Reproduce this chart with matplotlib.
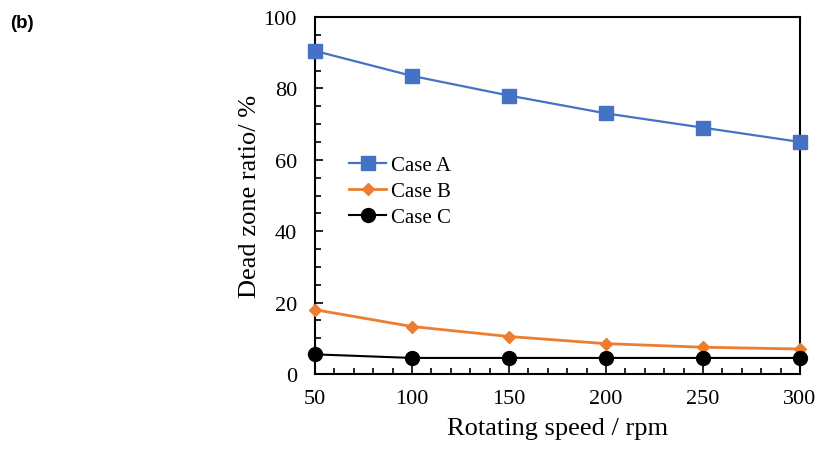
import matplotlib
matplotlib.use("Agg")
import matplotlib.pyplot as plt
from matplotlib.ticker import MultipleLocator

speed = [50, 100, 150, 200, 250, 300]
case_a = [90.5, 83.5, 78.0, 73.0, 69.0, 65.0]
case_b = [18.0, 13.3, 10.5, 8.5, 7.5, 7.0]
case_c = [5.5, 4.5, 4.5, 4.5, 4.5, 4.5]

plt.rcParams["font.family"] = ["Liberation Serif", "DejaVu Serif"]

fig = plt.figure(figsize=(8.21, 4.52), dpi=100)
ax = fig.add_axes([315 / 821, 1 - 375 / 452, 485 / 821, 357 / 452])

ax.plot(speed, case_a, color="#4472C4", marker="s", ms=10, lw=1.6, label="Case A", clip_on=False, zorder=3)
ax.plot(speed, case_b, color="#ED7D31", marker="D", ms=6.5, lw=2, label="Case B", clip_on=False, zorder=3)
ax.plot(speed, case_c, color="black", marker="o", ms=10, lw=1.5, label="Case C", clip_on=False, zorder=3)

ax.set_xlim(50, 300)
ax.set_ylim(0, 100)
ax.xaxis.set_major_locator(MultipleLocator(50))
ax.xaxis.set_minor_locator(MultipleLocator(10))
ax.yaxis.set_major_locator(MultipleLocator(20))
ax.yaxis.set_minor_locator(MultipleLocator(5))
ax.tick_params(which="both", direction="in", width=1.2, labelsize=16)
ax.tick_params(which="major", length=6)
ax.tick_params(which="minor", length=4)
ax.tick_params(axis="y", which="major", pad=13)
ax.tick_params(axis="x", which="major", pad=11)
for s in ax.spines.values():
    s.set_linewidth(1.5)

ax.set_xlabel("Rotating speed / rpm", fontsize=19, labelpad=6)
ax.set_ylabel("Dead zone ratio/ %", fontsize=19, labelpad=2)

ax.legend(loc="upper left", bbox_to_anchor=(0.04, 0.652), frameon=False, fontsize=15,
          handlelength=1.8, handletextpad=0.2, labelspacing=0.3, borderpad=0.2)

fig.text(10 / 821, 1 - 28 / 452, "(b)", fontsize=13.5, fontweight="bold", family="Liberation Sans")

fig.savefig("out.png", dpi=100)
